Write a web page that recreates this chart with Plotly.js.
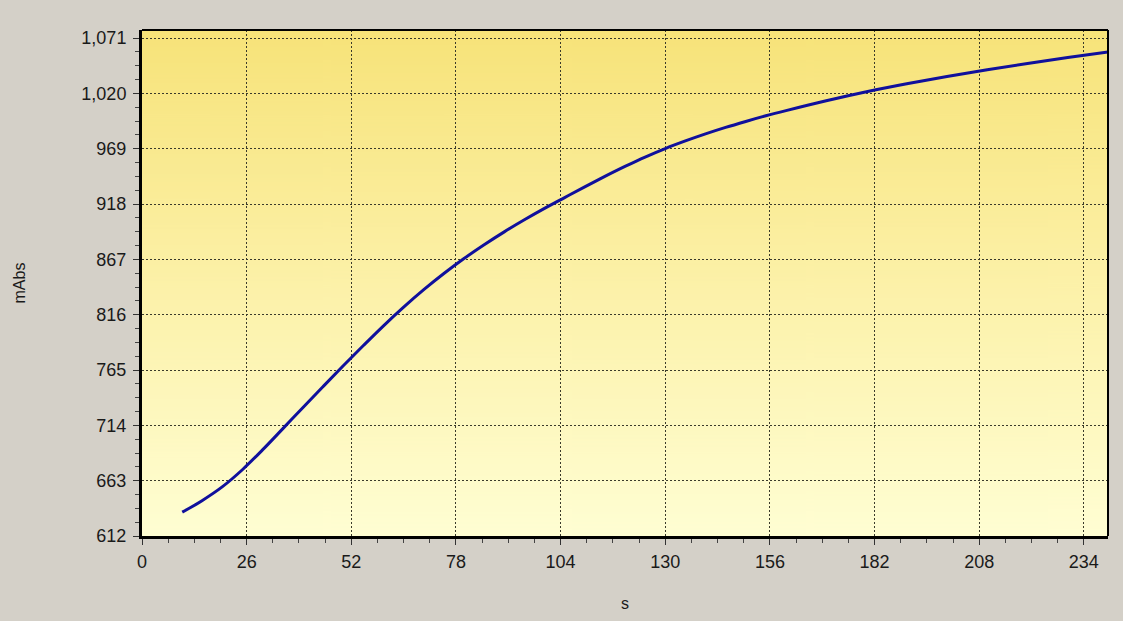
<!DOCTYPE html>
<html>
<head>
<meta charset="utf-8">
<script src="https://cdn.plot.ly/plotly-3.0.1.min.js"></script>
<style>
  html, body { margin: 0; padding: 0; background: #d4d0c8; }
  #chart { width: 1123px; height: 621px; }
</style>
</head>
<body>
<div id="chart"></div>
<script>
// ---- data ----
const timeS = [10, 15, 20, 25, 30, 35, 40, 45, 50, 55, 60, 65, 70, 75, 80, 85, 90, 95, 100, 105,
               110, 115, 120, 125, 130, 135, 140, 145, 150, 155, 160, 170, 180, 190, 200, 210, 220, 230, 240];
const absMilli = [634, 644.8, 657.5, 673.3, 691.6, 711.0, 730.5, 749.8, 768.9, 787.6, 805.8, 823.0, 839.1, 854.0, 867.8,
                  880.5, 892.4, 903.5, 914.0, 924.0, 933.9, 943.5, 952.7, 961.4, 969.2, 976.2, 982.7, 988.7, 994.2,
                  999.4, 1004.2, 1013.3, 1021.6, 1029.0, 1035.7, 1041.9, 1047.7, 1053.1, 1058.3];
const xTicks = [0, 26, 52, 78, 104, 130, 156, 182, 208, 234];
const yTicks = [612, 663, 714, 765, 816, 867, 918, 969, 1020, 1071];
const xTitle = 's';
const yTitle = 'mAbs';

// ---- gradient background image for the plot area ----
function gradientURL() {
  const c = document.createElement('canvas');
  c.width = 8; c.height = 512;
  const g = c.getContext('2d');
  const lg = g.createLinearGradient(0, 0, 0, 512);
  lg.addColorStop(0, '#f7e379');
  lg.addColorStop(0.5, '#fcf1a8');
  lg.addColorStop(1, '#fffed3');
  g.fillStyle = lg;
  g.fillRect(0, 0, 8, 512);
  return c.toDataURL('image/png');
}

const fontFam = '"Liberation Sans", Arial, sans-serif';

const trace = {
  x: timeS,
  y: absMilli,
  type: 'scatter',
  mode: 'lines',
  line: { color: '#10109c', width: 3, shape: 'spline', smoothing: 1 },
  hoverinfo: 'x+y'
};

const axisCommon = {
  showline: true,
  linecolor: '#000000',
  linewidth: 3,
  ticks: 'outside',
  ticklen: 6,
  tickwidth: 1,
  tickcolor: '#333333',
  ticklabelstandoff: 3,
  showgrid: true,
  gridcolor: '#3a3a2a',
  gridwidth: 1,
  griddash: '2px,2px',
  zeroline: false,
  tickfont: { family: fontFam, size: 18, color: '#1a1a1a' },
  fixedrange: true
};

const layout = {
  width: 1123,
  height: 621,
  paper_bgcolor: '#d4d0c8',
  plot_bgcolor: '#fdf3b0',
  margin: { l: 142, r: 15, t: 30, b: 85 },
  showlegend: false,
  xaxis: Object.assign({}, axisCommon, {
    range: [0, 240],
    tickmode: 'array',
    tickvals: xTicks,
    ticktext: xTicks.map(String),
    ticklabelstandoff: 1,
    minor: { dtick: 6.5, tick0: 0, ticklen: 4, tickcolor: '#444444', ticks: 'outside', showgrid: false },
    title: { text: xTitle, font: { family: fontFam, size: 16, color: '#1a1a1a' }, standoff: 28 }
  }),
  yaxis: Object.assign({}, axisCommon, {
    range: [612, 1078.5],
    tickmode: 'array',
    tickvals: yTicks,
    ticktext: yTicks.map(v => v.toLocaleString('en-US')),
    minor: { dtick: 12.75, tick0: 612, ticklen: 4, tickcolor: '#444444', ticks: 'outside', showgrid: false },
    title: { text: yTitle, font: { family: fontFam, size: 16, color: '#1a1a1a' }, standoff: 52 }
  }),
  images: [{
    source: gradientURL(),
    xref: 'paper', yref: 'paper',
    x: 0, y: 1, sizex: 1, sizey: 1,
    xanchor: 'left', yanchor: 'top',
    sizing: 'stretch',
    layer: 'below'
  }],
  shapes: [
    { type: 'line', xref: 'paper', yref: 'paper', x0: 0, x1: 1, y0: 1, y1: 1, line: { color: '#000000', width: 2 } },
    { type: 'line', xref: 'paper', yref: 'paper', x0: 1, x1: 1, y0: 0, y1: 1, line: { color: '#000000', width: 2 } }
  ]
};

Plotly.newPlot('chart', [trace], layout, { displayModeBar: false, responsive: false });
</script>
</body>
</html>
